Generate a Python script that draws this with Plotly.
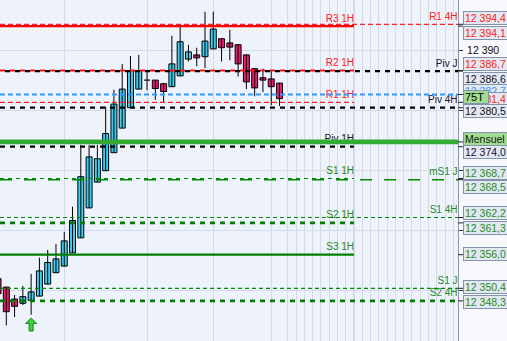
import plotly.graph_objects as go

# ---------------- data ----------------
candle_idx = list(range(35))
opens  = [12352.0,12350.6,12348.6,12347.9,12348.4,12349.1,12351.1,12353.0,12354.1,12356.3,
          12358.8,12363.8,12368.1,12370.0,12373.0,12377.1,12380.5,12383.6,12385.1,12385.1,
          12384.5,12384.0,12385.8,12388.6,12389.3,12389.0,12390.3,12392.0,12391.3,12391.0,
          12389.3,12387.0,12385.5,12385.3,12384.6]
highs  = [12352.0,12350.6,12349.3,12350.8,12352.8,12355.5,12356.8,12357.8,12359.8,12364.0,
          12374.3,12374.3,12374.3,12380.7,12383.5,12387.8,12389.1,12389.3,12386.7,12385.1,
          12384.5,12392.5,12394.1,12391.0,12390.5,12396.5,12396.5,12392.0,12393.5,12391.0,
          12389.3,12387.0,12387.0,12386.8,12384.6]
lows   = [12349.5,12344.2,12345.6,12347.6,12346.0,12349.1,12351.1,12353.0,12354.1,12356.3,
          12358.8,12363.8,12368.1,12370.0,12373.0,12377.1,12380.5,12383.6,12383.4,12381.8,
          12381.3,12384.0,12385.8,12388.2,12387.4,12387.1,12390.3,12388.2,12388.4,12385.7,
          12383.6,12382.4,12383.1,12380.9,12380.8]
closes = [12349.5,12346.5,12347.4,12349.0,12349.8,12353.3,12354.7,12355.3,12358.3,12361.7,
          12369.0,12372.3,12372.0,12376.2,12381.1,12383.6,12386.7,12386.7,12385.1,12383.7,
          12383.2,12387.8,12391.5,12389.8,12388.8,12391.6,12393.6,12390.5,12390.6,12387.8,
          12384.8,12383.8,12385.1,12384.0,12382.0]

# hourly levels (drawn up to the session end)
h1_names  = ["R3 1H", "R2 1H", "R1 1H", "Piv 1H", "S1 1H", "S2 1H", "S3 1H"]
h1_values = [12394.1, 12386.7, 12381.4, 12374.0, 12368.7, 12361.3, 12356.0]
# other levels (full width)
lv_names  = ["R1 4H", "Piv J", "", "Piv 4H", "mS1 J", "S1 4H", "S1 J", "S2 4H", "Mensuel"]
lv_values = [12394.4, 12386.6, 12382.7, 12380.5, 12368.5, 12362.2, 12350.4, 12348.3, 12374.8]

# price-axis labels
box_texts  = ["12 394,4", "12 394,1", "12 386,7", "12 386,6", "12 382,7", "12 381,4", "75T",
              "12 380,5", "Mensuel", "12 374,0", "12 368,7", "12 368,5", "12 362,2",
              "12 361,3", "12 356,0", "12 350,4", "12 348,3"]
box_values = [12394.4, 12394.1, 12386.7, 12386.6, 12382.7, 12381.4, 12382.7,
              12380.5, 12374.8, 12374.0, 12368.7, 12368.5, 12362.2,
              12361.3, 12356.0, 12350.4, 12348.3]

grid_prices = [12350, 12360, 12370, 12380, 12390]
grid_idx = [8, 18, 26, 33] + list(range(35, 56))
session_end = 43
signal_idx = [4]
signal_price = [12345.45]

# ---------------- styles ----------------
PX_X = 8.279   # px per candle
PX_Y = 6.0     # px per point
XR = [(0 + 1.98) / PX_X, (458 + 1.98) / PX_X]
YR = [12390 - 290.3 / PX_Y, 12390 + 50.7 / PX_Y]
FONT = "Liberation Sans, Arial, sans-serif"
RED = "#ff1a1a"
GREEN_T = "#1f8c1f"
BLACK_T = "#141428"

h1_styles = [
    dict(color="#ff0000", width=2.2, dash="solid"),
    dict(color="#ff1010", width=2.2, dash="5px,5px"),
    dict(color="#ff2020", width=1.2, dash="5px,3px"),
    dict(color="#000000", width=2.2, dash="5px,5px"),
    dict(color="#008a00", width=1.2, dash="4px,4px"),
    dict(color="#008000", width=2.6, dash="5px,5px"),
    dict(color="#008000", width=2.2, dash="solid"),
]
h1_text_col = [RED, RED, RED, BLACK_T, GREEN_T, GREEN_T, GREEN_T]
lv_styles = [
    dict(color="#ff2020", width=1.2, dash="5px,3px"),
    dict(color="#000000", width=2.2, dash="0px,5px,5px,0px"),
    dict(color="#3399ff", width=2.2, dash="5px,3px"),
    dict(color="#000000", width=2.2, dash="5px,5px"),
    dict(color="#008a00", width=1.5, dash="12px,12px"),
    dict(color="#008a00", width=1.2, dash="4px,3px"),
    dict(color="#008a00", width=1.2, dash="4px,3px"),
    dict(color="#008000", width=2.6, dash="5px,5px"),
    dict(color="#33aa33", width=4.6, dash="solid"),
]
lv_text_col = [RED, BLACK_T, BLACK_T, BLACK_T, GREEN_T, GREEN_T, GREEN_T, GREEN_T, BLACK_T]

box_colors = [RED, RED, RED, BLACK_T, "#3399ff", RED, "#000000", BLACK_T, "#102010",
              "#1a0a40", GREEN_T, GREEN_T, GREEN_T, GREEN_T, GREEN_T, GREEN_T, GREEN_T]
box_shift = [-6.3, 6.9, -6.5, 7.9, -3.5, -3.3, 2.5, 3.7, -3.4, 4.8, -6, 6.8, -4.5, 4.6, -0.7, -1.3, 0.6]

fig = go.Figure()

# wicks
wx, wy = [], []
for i, h, l in zip(candle_idx, highs, lows):
    wx += [i, i, None]
    wy += [l, h, None]
fig.add_trace(go.Scatter(x=wx, y=wy, mode="lines", line=dict(color="black", width=1),
                         hoverinfo="skip", showlegend=False))

# bodies
body_x, body_base, body_h, body_c = [], [], [], []
dx, dy = [], []
for i, o, c in zip(candle_idx, opens, closes):
    if abs(c - o) < 0.05:
        dx += [i - 0.36, i + 0.36, None]
        dy += [o, o, None]
        continue
    body_x.append(i)
    body_base.append(min(o, c))
    body_h.append(abs(c - o))
    body_c.append("#3ccff3" if c > o else "#ea1a6e")
fig.add_trace(go.Bar(x=body_x, y=body_h, base=body_base, width=0.72,
                     marker=dict(color=body_c, line=dict(color="black", width=1)),
                     hoverinfo="skip", showlegend=False))
fig.add_trace(go.Scatter(x=dx, y=dy, mode="lines", line=dict(color="black", width=1.2),
                         hoverinfo="skip", showlegend=False))

# level labels (text under lines)
LAB_OFF = 7.0 / PX_Y
fig.add_trace(go.Scatter(
    x=[session_end] * len(h1_names), y=[v + LAB_OFF for v in h1_values],
    text=h1_names, mode="text", textposition="middle left",
    textfont=dict(family=FONT, size=10, color=h1_text_col),
    hoverinfo="skip", showlegend=False))
fig.add_trace(go.Scatter(
    x=[XR[1] - 0.06] * len(lv_names), y=[v + LAB_OFF for v in lv_values],
    text=[n if n != "Mensuel" else "" for n in lv_names], mode="text", textposition="middle left",
    textfont=dict(family=FONT, size=10, color=lv_text_col),
    hoverinfo="skip", showlegend=False))

# level lines
for v, st in zip(h1_values, h1_styles):
    fig.add_trace(go.Scatter(x=[XR[0], session_end], y=[v, v], mode="lines",
                             line=st, hoverinfo="skip", showlegend=False))
for v, st in zip(lv_values, lv_styles):
    fig.add_trace(go.Scatter(x=[XR[0], XR[1] + 0.5], y=[v, v], mode="lines",
                             line=st, hoverinfo="skip", showlegend=False, cliponaxis=False))

# signal arrow
ax, ay = [], []
hw, sw = 5.5 / PX_X, 2.0 / PX_X
for i, p in zip(signal_idx, signal_price):
    head = 5.5 / PX_Y
    tail = 13.0 / PX_Y
    ax += [i, i + hw, i + sw, i + sw, i - sw, i - sw, i - hw, i, None]
    ay += [p, p - head, p - head, p - tail, p - tail, p - head, p - head, p, None]
fig.add_trace(go.Scatter(x=ax, y=ay, mode="lines", fill="toself", fillcolor="#3fcc3f",
                         line=dict(color="#168a16", width=1), hoverinfo="skip", showlegend=False))

shapes = [dict(type="line", xref="x", yref="paper", x0=session_end, x1=session_end, y0=0, y1=1,
               line=dict(color="#b9c0d2", width=1), layer="below")]
for v in h1_values + lv_values:
    shapes.append(dict(type="line", xref="paper", yref="y", x0=1, x1=1 + 5 / 458, y0=v, y1=v,
                       line=dict(color="#222222", width=1)))

annotations = []
for t, v, c, s in zip(box_texts, box_values, box_colors, box_shift):
    special = t in ("75T", "Mensuel")
    annotations.append(dict(
        xref="paper", yref="y", x=1 + 5 / 458, y=v, xanchor="left", yanchor="middle",
        yshift=-s, text=t, showarrow=False, align="left",
        width=(22 if t == "75T" else 46), height=10, borderpad=1, borderwidth=1,
        bordercolor="#8393ab",
        bgcolor=("#a2dc92" if special else "#e2e7f0"),
        font=dict(family=FONT, size=(11 if t == "75T" else 10.5), color=c)))

fig.update_layout(
    width=507, height=341, margin=dict(l=0, r=49, t=0, b=0),
    plot_bgcolor="#eef2fb", paper_bgcolor="#f7f8fb",
    showlegend=False, barmode="overlay",
    shapes=shapes, annotations=annotations,
    xaxis=dict(range=XR, tickvals=grid_idx, showticklabels=False, showgrid=True,
               gridcolor="#d5dae8", gridwidth=1, zeroline=False, showline=False, ticks=""),
    yaxis=dict(range=YR, side="right", tickvals=grid_prices,
               ticktext=["", "", "", "", "12 390"], showgrid=True, gridcolor="#d5dae8",
               zeroline=False, showline=True, linecolor="#8797aa", linewidth=1,
               ticks="outside", ticklen=4, tickcolor="#333333",
               tickfont=dict(family=FONT, size=10.5, color="#111111"),
               ticklabelstandoff=2),
)

fig.write_html("out.html")
